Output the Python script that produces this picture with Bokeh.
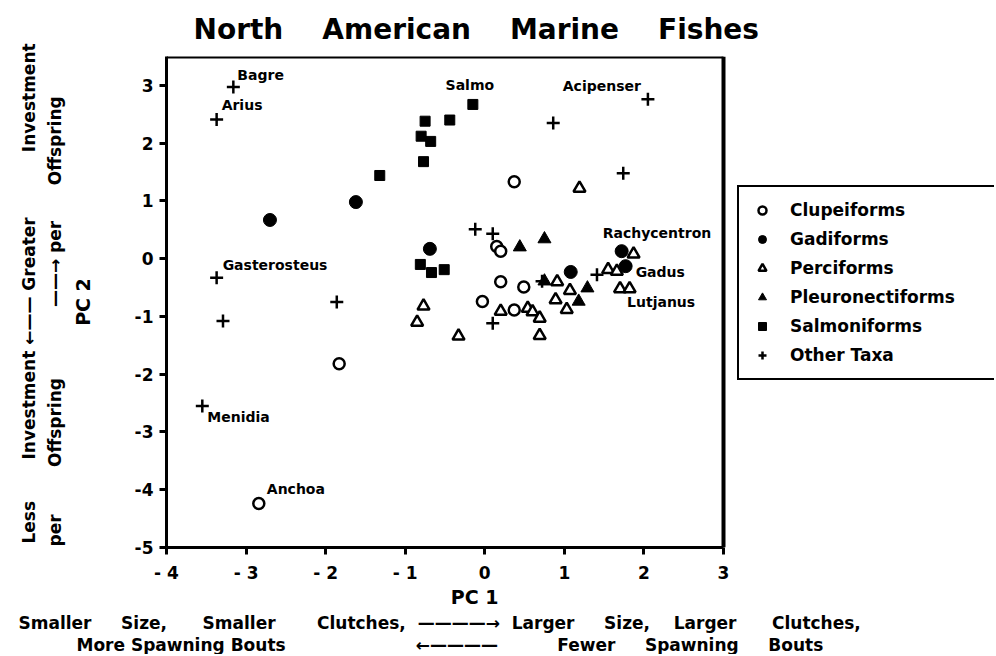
from bokeh.plotting import figure
from bokeh.models import (Range1d, FixedTicker, Legend, LegendItem, ColumnDataSource, Title)
from bokeh.core.properties import value
from bokeh.embed import file_html
from bokeh.resources import INLINE

# ---------------- data ----------------
clupeiforms_x = [0.37, 0.15, 0.20, 0.20, 0.49, -0.03, 0.37, -1.83, -2.84]
clupeiforms_y = [1.33, 0.21, 0.13, -0.40, -0.49, -0.74, -0.89, -1.82, -4.24]

gadiforms_x = [-2.70, -1.62, -0.69, 1.08, 1.72, 1.77]
gadiforms_y = [0.67, 0.98, 0.17, -0.23, 0.13, -0.13]

perciforms_x = [1.19, 1.87, 1.55, 1.66, 1.70, 1.82, 0.91, 0.89, 1.03, 1.07,
                0.20, 0.54, 0.60, 0.69, 0.69, -0.33, -0.77, -0.85]
perciforms_y = [1.22, 0.08, -0.19, -0.22, -0.52, -0.52, -0.40, -0.71, -0.88, -0.55,
                -0.91, -0.86, -0.92, -1.03, -1.33, -1.34, -0.82, -1.10]

pleuronectiforms_x = [0.44, 0.75, 0.75, 1.18, 1.29]
pleuronectiforms_y = [0.20, 0.34, -0.39, -0.74, -0.51]

salmoniforms_x = [-0.15, -0.75, -0.44, -0.80, -0.68, -0.77, -1.32, -0.81, -0.67, -0.51]
salmoniforms_y = [2.67, 2.38, 2.40, 2.12, 2.03, 1.68, 1.44, -0.10, -0.24, -0.19]

other_x = [-3.16, -3.37, 2.05, 0.86, 1.74, -0.12, 0.10, 1.41, 0.10, -3.37, -3.29,
           -1.86, -3.55, 0.72]
other_y = [2.97, 2.41, 2.76, 2.35, 1.48, 0.51, 0.43, -0.28, -1.12, -0.33, -1.08,
           -0.75, -2.55, -0.39]

group_names = ["Clupeiforms", "Gadiforms", "Perciforms", "Pleuronectiforms",
               "Salmoniforms", "Other Taxa"]

# genus labels: (name, group, index of the point within that group)
genus_names = ["Bagre", "Arius", "Salmo", "Acipenser", "Rachycentron", "Gadus",
               "Lutjanus", "Gasterosteus", "Menidia", "Anchoa"]
genus_group = ["Other Taxa", "Other Taxa", "Salmoniforms", "Other Taxa", "Gadiforms",
               "Gadiforms", "Perciforms", "Other Taxa", "Other Taxa", "Clupeiforms"]
genus_index = [0, 1, 0, 2, 4, 5, 4, 9, 12, 8]

x_min, x_max = -4, 3
y_min, y_max = -5, 3.5
x_ticks = [-4, -3, -2, -1, 0, 1, 2, 3]
x_tick_labels = ["- 4", "- 3", "- 2", "- 1", "0", "1", "2", "3"]
y_ticks = [-5, -4, -3, -2, -1, 0, 1, 2, 3]
y_tick_labels = ["-5", "-4", "-3", "-2", "-1", "0", "1", "2", "3"]

title_words = ["North", "American", "Marine", "Fishes"]
x_title = "PC 1"
y_title = "PC 2"

# caption pieces (left lines read bottom to top)
ARROW_FWD_SHORT = "\u2014\u2014\u2192"
ARROW_BACK_SHORT = "\u2190\u2014\u2014"
ARROW_FWD_LONG = "\u2014\u2014\u2014\u2014\u2192"
ARROW_BACK_LONG = "\u2190\u2014\u2014\u2014\u2014"
left_line1 = ["Less", "Investment", ARROW_BACK_SHORT, "Greater", "Investment"]
left_line2 = ["per", "Offspring", ARROW_FWD_SHORT, "per", "Offspring"]
bottom_line1 = ["Smaller", "Size,", "Smaller", "Clutches,", ARROW_FWD_LONG, "Larger",
                "Size,", "Larger", "Clutches,"]
bottom_line2 = ["More", "Spawning", "Bouts", ARROW_BACK_LONG, "Fewer", "Spawning", "Bouts"]

# ---------------- styling / layout ----------------
FONT = "DejaVu Sans"
W, H = 994, 654
FR_L, FR_T, FR_B, FR_R = 166, 56, 549, 723     # canvas box of the plotting area

# number of no-break spaces between caption pieces (wide, justified look)
left_line1_gaps = [7, 1, 1, 11]
left_line2_gaps = [8, 12, 1, 6]
bottom_line1_gaps = [5, 6, 7, 2, 2, 5, 4, 6]
bottom_line2_gaps = [1, 1, 22, 10, 5, 5]
X_TITLE_PAD = 32     # trailing no-break spaces: shifts "PC 1" left of the frame centre


def spaced(parts, gaps):
    out = parts[0]
    for g, w in zip(gaps, parts[1:]):
        out += "\u00a0" * g + w
    return out


series = {
    "Clupeiforms": (clupeiforms_x, clupeiforms_y),
    "Gadiforms": (gadiforms_x, gadiforms_y),
    "Perciforms": (perciforms_x, perciforms_y),
    "Pleuronectiforms": (pleuronectiforms_x, pleuronectiforms_y),
    "Salmoniforms": (salmoniforms_x, salmoniforms_y),
    "Other Taxa": (other_x, other_y),
}
marker_style = {
    "Clupeiforms": dict(marker="circle", size=11, fill_color="white", line_width=2.5),
    "Gadiforms": dict(marker="circle", size=13, fill_color="black", line_width=1),
    "Perciforms": dict(marker="triangle", size=12, fill_color="white", line_width=2.5),
    "Pleuronectiforms": dict(marker="triangle", size=13, fill_color="black", line_width=1),
    "Salmoniforms": dict(marker="square", size=10, fill_color="black", line_width=1),
    "Other Taxa": dict(marker="cross", size=13, fill_color="black", line_width=2.5),
}
label_style = {   # x_offset, y_offset (px, +y down), align
    "Bagre": (4, -12, "left"),
    "Arius": (5, -14, "left"),
    "Salmo": (-3, -19, "center"),
    "Acipenser": (-7, -13, "right"),
    "Rachycentron": (-19, -18, "left"),
    "Gadus": (10, 6, "left"),
    "Lutjanus": (7, 13, "left"),
    "Gasterosteus": (6, -13, "left"),
    "Menidia": (5, 11, "left"),
    "Anchoa": (8, -15, "left"),
}

# the frame runs to the right canvas edge so that the legend can sit beside the
# box; the visible box is closed at x_max / y_max by the border lines below
px_per_unit = (FR_R - FR_L) / (x_max - x_min)
x_end = x_min + (W - FR_L) / px_per_unit

p = figure(width=W, height=H, x_range=Range1d(x_min, x_end), y_range=Range1d(y_min, y_max),
           output_backend="svg", toolbar_location=None,
           min_border_left=FR_L, min_border_right=0, min_border_top=FR_T,
           min_border_bottom=H - FR_B)
p.title.text = "\u00a0\u00a0\u00a0\u00a0".join(title_words)
p.title.text_font = FONT
p.title.text_font_size = "28px"
p.title.text_font_style = "bold"
p.title.text_color = "black"
p.title.align = "left"
p.title.offset = 27
p.title.standoff = 21
p.grid.visible = False
p.outline_line_color = None
p.background_fill_color = "white"
p.border_fill_color = "white"

p.xaxis.ticker = FixedTicker(ticks=x_ticks)
p.xaxis.major_label_overrides = dict(zip(x_ticks, x_tick_labels))
p.xaxis.bounds = (x_min, x_max)
p.yaxis.ticker = FixedTicker(ticks=y_ticks)
p.yaxis.major_label_overrides = dict(zip(y_ticks, y_tick_labels))
for ax in (p.xaxis[0], p.yaxis[0]):
    ax.axis_line_width = 3
    ax.axis_line_color = "black"
    ax.major_tick_line_width = 3
    ax.major_tick_line_color = "black"
    ax.major_tick_out = 7
    ax.major_tick_in = 0
    ax.minor_tick_out = 0
    ax.minor_tick_in = 0
    ax.major_label_text_font = FONT
    ax.major_label_text_font_size = "17px"
    ax.major_label_text_font_style = "bold"
    ax.major_label_text_color = "black"
    ax.major_label_standoff = 6
    ax.axis_label_text_font = FONT
    ax.axis_label_text_font_size = "19px"
    ax.axis_label_text_font_style = "bold"
    ax.axis_label_text_color = "black"
p.xaxis.major_label_standoff = 8
p.xaxis.axis_label = x_title + "\u00a0" * X_TITLE_PAD
p.xaxis.axis_label_standoff = 0
p.yaxis.axis_label = y_title
p.yaxis.axis_label_standoff = 38

# right and top sides of the plotting box
p.segment(x0=[x_max, x_min], y0=[y_min, y_max], x1=[x_max, x_max], y1=[y_max, y_max],
          line_color="black", line_width=4)

renderers = {}
for name in group_names:
    xs, ys = series[name]
    renderers[name] = p.scatter(xs, ys, line_color="black", **marker_style[name])

lx, ly, ldx, ldy, lal = [], [], [], [], []
for n, g, i in zip(genus_names, genus_group, genus_index):
    xs, ys = series[g]
    lx.append(xs[i]); ly.append(ys[i])
    dx, dy, al = label_style[n]
    ldx.append(dx); ldy.append(dy); lal.append(al)
src = ColumnDataSource(dict(x=lx, y=ly, text=genus_names, dx=ldx, dy=ldy, al=lal))
p.text(x="x", y="y", text="text", x_offset="dx", y_offset="dy", text_align="al",
       text_baseline="middle", text_font=value(FONT), text_font_size="14px",
       text_font_style="bold", text_color="black", source=src)

legend = Legend(items=[LegendItem(label=n, renderers=[renderers[n]]) for n in group_names],
                location=(737 - FR_L, FR_B - 382))
legend.label_text_font = FONT
legend.label_text_font_size = "17px"
legend.label_text_font_style = "bold"
legend.label_text_color = "black"
legend.padding = 13
legend.spacing = 9
legend.label_height = 20
legend.glyph_height = 20
legend.glyph_width = 20
legend.label_standoff = 18
legend.label_width = 400
legend.border_line_color = "black"
legend.border_line_alpha = 1.0
legend.border_line_width = 2
legend.background_fill_color = "white"
legend.background_fill_alpha = 1.0
legend.margin = 0
p.add_layout(legend, "center")


def caption(text, where, align, offset, standoff, size):
    p.add_layout(Title(text=text, align=align, offset=offset, standoff=standoff,
                       text_font=FONT, text_font_size=size, text_font_style="bold",
                       text_color="black"), where)


# left captions: line 2 is nearer to the axis, line 1 is outermost
caption(spaced(left_line2, left_line2_gaps), "left", "left", FR_B - 548, 8, "17px")
caption(spaced(left_line1, left_line1_gaps), "left", "left", FR_B - 545, 0, "17px")
# bottom captions
caption(spaced(bottom_line1, bottom_line1_gaps), "below", "left", 18 - FR_L, 0, "17px")
caption(spaced(bottom_line2, bottom_line2_gaps), "below", "left", 76 - FR_L, 0, "17px")

open("out.html", "w").write(file_html(p, INLINE))
